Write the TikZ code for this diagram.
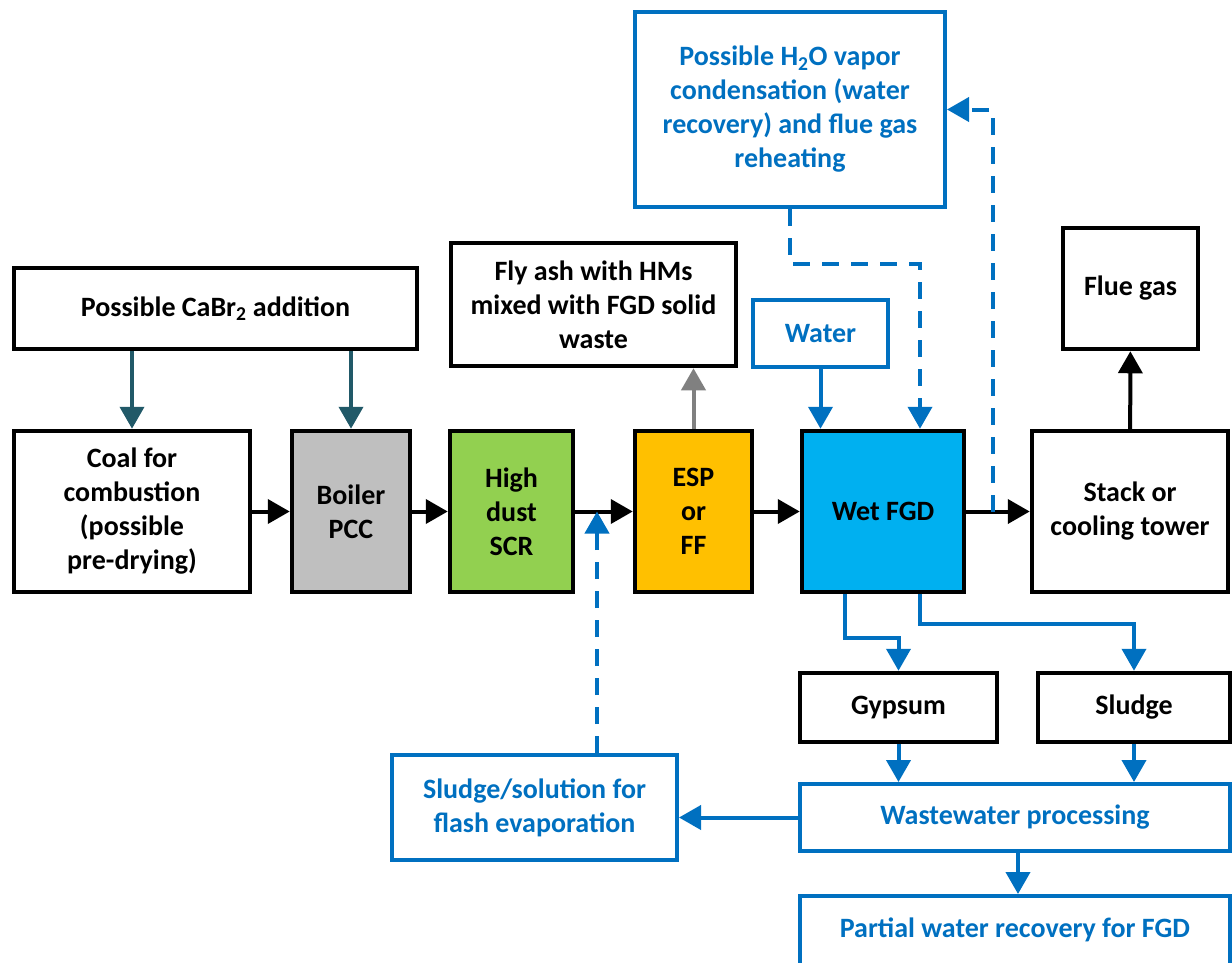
\documentclass[tikz,border=0pt]{standalone}
\usepackage{fontspec}
\setmainfont{Carlito}
\usepackage{xcolor}
\usetikzlibrary{arrows.meta,positioning,calc}

\definecolor{fgdblue}{HTML}{0070C0}
\definecolor{arrowteal}{HTML}{215968}
\definecolor{boilergray}{HTML}{BFBFBF}
\definecolor{scrgreen}{HTML}{92D050}
\definecolor{espamber}{HTML}{FFC000}
\definecolor{wetcyan}{HTML}{00B0F0}
\definecolor{ashgray}{HTML}{808080}

\begin{document}
\begin{tikzpicture}[x=1pt,y=-1pt,
    font=\fontsize{28}{34}\selectfont\bfseries,
    box/.style={draw, line width=4.5pt, align=center, inner sep=4pt},
    bluebox/.style={draw=fgdblue, text=fgdblue, line width=4pt, align=center, inner sep=4pt},
    flow/.style={line width=4pt, -{Triangle[width=24pt,length=22pt]}},
    tealflow/.style={flow, draw=arrowteal, arrowteal},
    grayflow/.style={flow, draw=ashgray, ashgray},
    blueflow/.style={flow, draw=fgdblue, fgdblue},
    bluedash/.style={blueflow, dash pattern=on 17pt off 12pt}]
    \useasboundingbox (0,0) rectangle (1232,962);
    \begin{scope}
        % Additive
        \node [box, minimum width=403pt, minimum height=81pt] (cabr) at (215.5,308.5) {Possible CaBr\textsubscript{2} addition};

        % Main flue gas train
        \node [box, minimum width=236pt, minimum height=161pt] (coal) at (132,511.5) {Coal for\\combustion\\(possible\\pre-drying)};
        \node [box, fill=boilergray, minimum width=118pt, minimum height=161pt] (boiler) at (351,511.5) {Boiler\\PCC};
        \node [box, fill=scrgreen, minimum width=123pt, minimum height=161pt] (scr) at (511.5,511.5) {High\\dust\\SCR};
        \node [box, fill=espamber, minimum width=117pt, minimum height=161pt] (esp) at (693.5,511.5) {ESP\\or\\FF};
        \node [box, fill=wetcyan, minimum width=162pt, minimum height=161pt] (wetfgd) at (883,511.5) {Wet FGD};
        \node [box, minimum width=196pt, minimum height=161pt] (stack) at (1130,511.5) {Stack or\\cooling tower};

        % Outputs above
        \node [box, minimum width=135pt, minimum height=121pt] (fluegas) at (1130.5,288.5) {Flue gas};
        \node [box, minimum width=285pt, minimum height=123pt] (flyash) at (593.5,304.5) {Fly ash with HMs\\mixed with FGD solid\\waste};
        \node [bluebox, minimum width=135pt, minimum height=67pt] (water) at (820.5,333.5) {Water};
        \node [bluebox, minimum width=310pt, minimum height=195pt] (vapor) at (790,109.5) {Possible H\textsubscript{2}O vapor\\condensation (water\\recovery) and flue gas\\reheating};

        % Solids and water treatment
        \node [box, minimum width=197pt, minimum height=69pt] (gypsum) at (898.5,707.5) {Gypsum};
        \node [box, minimum width=192pt, minimum height=69pt] (sludge) at (1134,707.5) {Sludge};
        \node [bluebox, minimum width=430pt, minimum height=67pt] (wastewater) at (1015,817.5) {Wastewater processing};
        \node [bluebox, minimum width=430pt, minimum height=90pt, text depth=27pt] (partial) at (1015,941) {Partial water recovery for FGD};
        \node [bluebox, minimum width=285pt, minimum height=105pt] (flash) at (534.5,807.5) {Sludge/solution for\\flash evaporation};

        % Junctions on the gas line
        \coordinate (merge) at (597,511.5);
        \coordinate (tap) at (993,511.5);

        % Connectors
        \draw [tealflow] (cabr.south -| coal.north) -- (coal.north);
        \draw [tealflow] (cabr.south -| boiler.north) -- (boiler.north);
        \draw [flow] (coal) -- (boiler);
        \draw [flow] (boiler) -- (scr);
        \draw [flow] (scr) -- (esp);
        \draw [flow] (esp) -- (wetfgd);
        \draw [flow] (wetfgd) -- (stack);
        \draw [flow] (stack) -- (fluegas);
        \draw [grayflow] (esp.north) -- (esp.north |- flyash.south);
        \draw [blueflow] (water.south) -- (water.south |- wetfgd.north);
        \draw [bluedash] (vapor.south) -- ++(0,55) -| ([xshift=37pt]wetfgd.north);
        \draw [bluedash] (tap) |- (vapor.east);
        \draw [blueflow] ([xshift=-38pt]wetfgd.south) -- ++(0,44) -| (gypsum.north);
        \draw [blueflow] ([xshift=37pt]wetfgd.south) -- ++(0,30) -| (sludge.north);
        \draw [blueflow] (gypsum.south) -- (gypsum.south |- wastewater.north);
        \draw [blueflow] (sludge.south) -- (sludge.south |- wastewater.north);
        \draw [blueflow] (wastewater.west) -- (wastewater.west -| flash.east);
        \draw [blueflow] ([xshift=3pt]wastewater.south) -- ([xshift=3pt]wastewater.south |- partial.north);
        \draw [bluedash] (flash.north -| merge) -- (merge);
    \end{scope}
\end{tikzpicture}
\end{document}
